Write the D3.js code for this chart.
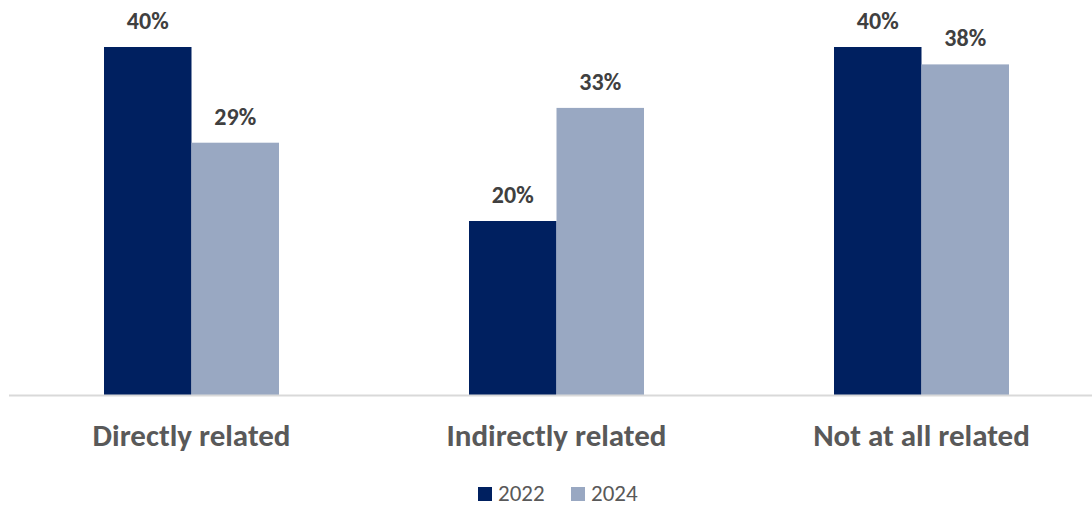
<!DOCTYPE html>
<html>
<head>
<meta charset="utf-8">
<script src="https://cdn.jsdelivr.net/npm/d3@7/dist/d3.min.js"></script>
<style>
  html, body { margin: 0; padding: 0; background: #fff; }
  svg { display: block; }
  text { font-family: Carlito, Calibri, Lato, "Open Sans", sans-serif; }
</style>
</head>
<body>
<svg id="chart" width="1092" height="506"></svg>
<script>
// Share of respondents by how related their work is, 2022 vs 2024
const categories = ["Directly related", "Indirectly related", "Not at all related"];
const years = ["2022", "2024"];
const values2022 = [40, 20, 40];
const values2024 = [29, 33, 38];

const colors = { "2022": "#002060", "2024": "#99A8C2" };

const svg = d3.select("#chart");
const W = 1092, H = 506;
const baseY = 395;

const rows = categories.map((c, i) => ({
  category: c,
  bars: [
    { year: "2022", value: values2022[i] },
    { year: "2024", value: values2024[i] }
  ]
}));

const x0 = d3.scaleBand()
  .domain(categories)
  .range([9, 1104])
  .paddingInner(190 / 365)
  .paddingOuter(95 / 365);

const x1 = d3.scaleBand()
  .domain(years)
  .range([0, x0.bandwidth()]);

const y = d3.scaleLinear()
  .domain([0, 40])
  .range([baseY, 47]);

// bars
const groups = svg.append("g")
  .selectAll("g")
  .data(rows)
  .join("g")
  .attr("transform", d => `translate(${x0(d.category)},0)`);

groups.selectAll("rect")
  .data(d => d.bars)
  .join("rect")
  .attr("x", d => x1(d.year))
  .attr("y", d => y(d.value))
  .attr("width", x1.bandwidth())
  .attr("height", d => y(0) - y(d.value))
  .attr("fill", d => colors[d.year]);

// value labels
groups.selectAll("text.val")
  .data(d => d.bars)
  .join("text")
  .attr("class", "val")
  .attr("x", d => x1(d.year) + x1.bandwidth() / 2)
  .attr("y", d => y(d.value) - 18)
  .attr("text-anchor", "middle")
  .attr("font-size", 24)
  .attr("font-weight", 700)
  .attr("fill", "#404040")
  .text(d => d.value + "%");

// baseline
svg.append("line")
  .attr("x1", 9).attr("x2", W)
  .attr("y1", baseY + 0.5).attr("y2", baseY + 0.5)
  .attr("stroke", "#D9D9D9")
  .attr("stroke-width", 2);

// category axis labels
const xAxis = d3.axisBottom(x0).tickSize(0).tickPadding(0);
const axisG = svg.append("g")
  .attr("transform", `translate(0,${baseY})`)
  .call(xAxis);
axisG.select(".domain").remove();
axisG.selectAll("text")
  .attr("y", 51)
  .attr("dy", 0)
  .attr("font-size", 31)
  .attr("font-weight", 700)
  .attr("fill", "#595959")
  .style("font-family", 'Carlito, Calibri, Lato, "Open Sans", sans-serif');

// legend
const legend = svg.append("g");
const legendItems = [
  { year: "2022", x: 478 },
  { year: "2024", x: 571 }
];
const li = legend.selectAll("g")
  .data(legendItems)
  .join("g")
  .attr("transform", d => `translate(${d.x},487)`);
li.append("rect")
  .attr("width", 14).attr("height", 14)
  .attr("fill", d => colors[d.year]);
li.append("text")
  .attr("x", 20).attr("y", 14)
  .attr("font-size", 23)
  .attr("fill", "#595959")
  .text(d => d.year);
</script>
</body>
</html>
